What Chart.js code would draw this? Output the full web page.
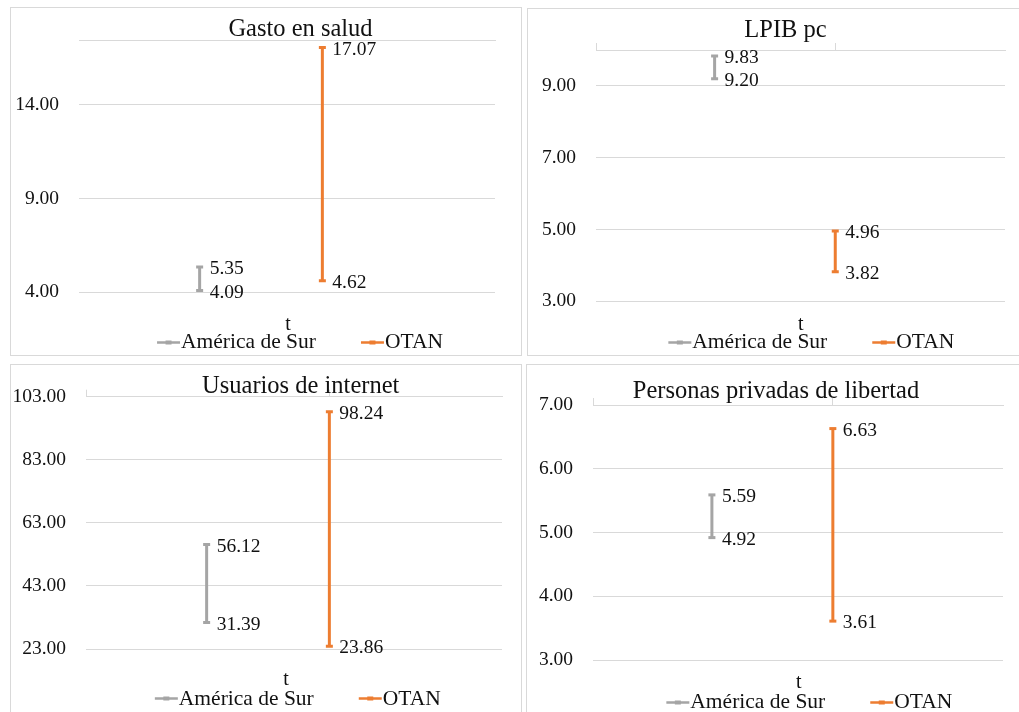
<!DOCTYPE html>
<html>
<head>
<meta charset="utf-8">
<title>Indicadores: América de Sur vs OTAN</title>
<script src="https://cdn.jsdelivr.net/npm/chart.js@4.4.0/dist/chart.umd.min.js"></script>
<style>
  html, body { margin: 0; padding: 0; background: #fff; width: 1019px; height: 712px; overflow: hidden; }
  .panel { position: absolute; box-sizing: border-box; border: 1px solid #d9d9d9; overflow: hidden; background: #fff; }
  .panel canvas { position: absolute; left: 0; top: 0; }
</style>
</head>
<body>
<div class="panel" style="left:10px;top:7px;width:512px;height:349px"><canvas id="c0" width="510" height="352"></canvas></div>
<div class="panel" style="left:527px;top:8px;width:512px;height:348px"><canvas id="c1" width="510" height="352"></canvas></div>
<div class="panel" style="left:10px;top:364px;width:512px;height:349px"><canvas id="c2" width="510" height="352"></canvas></div>
<div class="panel" style="left:526px;top:364px;width:512px;height:349px"><canvas id="c3" width="510" height="352"></canvas></div>
<script>
// ---- data ----
const indicators = ['Gasto en salud', 'LPIB pc', 'Usuarios de internet', 'Personas privadas de libertad'];
const seriesNames = ['América de Sur', 'OTAN'];
const surLow   = [4.09, 9.20, 31.39, 4.92];
const surHigh  = [5.35, 9.83, 56.12, 5.59];
const otanLow  = [4.62, 3.82, 23.86, 3.61];
const otanHigh = [17.07, 4.96, 98.24, 6.63];
const yTicks = [[4, 9, 14], [3, 5, 7, 9], [23, 43, 63, 83, 103], [3, 4, 5, 6, 7]];
const yMin = [4, 3, 23, 3];
const yMax = [17.44, 10, 103, 7];
const axisTitle = 't';

// ---- style ----
const GRAY = '#A5A5A5';
const ORANGE = '#ED7D31';
const GRID = '#D9D9D9';
const TEXT = '#111111';
const FAMILY = '"Liberation Serif", "Times New Roman", serif';
const seriesColors = [GRAY, ORANGE];
const seriesX = [0.29, 0.585];          // horizontal slot of each series inside the plot (0..1)
const CANVAS_W = 510, CANVAS_H = 352;

// per-panel geometry in canvas pixels
const layouts = [
  { area: { left: 68, top: 32.5, right: 484, bottom: 284.3 }, ticks: false, title: [289.5, 28],   axisT: [277, 322],   legend: [289, 340.3] },
  { area: { left: 68, top: 41,   right: 477, bottom: 292.3 }, ticks: true,  title: [257.5, 28.3], axisT: [272.7, 321], legend: [283.3, 339.3] },
  { area: { left: 75, top: 31.7, right: 491, bottom: 284 },   ticks: true,  title: [289.7, 28.3], axisT: [275, 320],   legend: [286.8, 340] },
  { area: { left: 66, top: 40,   right: 476, bottom: 295 },   ticks: true,  title: [249, 33.3],   axisT: [271.7, 323.3], legend: [282.3, 343.3] }
];

// numeric labels next to each end point
const valueLabels = {
  id: 'valueLabels',
  afterDatasetsDraw(chart) {
    const ctx = chart.ctx;
    ctx.save();
    ctx.font = '19.5px ' + FAMILY;
    ctx.fillStyle = TEXT;
    ctx.textAlign = 'left';
    ctx.textBaseline = 'middle';
    chart.data.datasets.forEach((ds, i) => {
      chart.getDatasetMeta(i).data.forEach((pt, j) => {
        ctx.fillText(ds.data[j].y.toFixed(2), pt.x + 10, pt.y + 2);
      });
    });
    ctx.restore();
  }
};

// panel title, axis caption and legend row
function panelDecor(idx) {
  return {
    id: 'panelDecor',
    afterDraw(chart) {
      const L = layouts[idx];
      const ctx = chart.ctx;
      ctx.save();
      ctx.fillStyle = TEXT;
      ctx.textBaseline = 'alphabetic';
      ctx.textAlign = 'center';
      ctx.font = '24.5px ' + FAMILY;
      ctx.fillText(indicators[idx], L.title[0], L.title[1]);
      ctx.font = '20px ' + FAMILY;
      ctx.fillText(axisTitle, L.axisT[0], L.axisT[1]);

      ctx.font = '21.5px ' + FAMILY;
      ctx.textAlign = 'left';
      const SYM = 23, GAP = 45;
      const items = chart.data.datasets.map(d => ({ text: d.label, color: d.borderColor, w: ctx.measureText(d.label).width }));
      const total = items.reduce((s, it) => s + SYM + 1 + it.w, 0) + GAP * (items.length - 1);
      let x = L.legend[0] - total / 2;
      const yb = L.legend[1];
      const ys = Math.round(yb - 6.6) + 0.5;
      items.forEach(it => {
        ctx.strokeStyle = it.color;
        ctx.lineWidth = 2.5;
        ctx.beginPath();
        ctx.moveTo(x, ys);
        ctx.lineTo(x + SYM, ys);
        ctx.stroke();
        ctx.fillStyle = it.color;
        ctx.fillRect(x + SYM / 2 - 3, ys - 2, 6, 4);
        x += SYM + 1;
        ctx.fillStyle = TEXT;
        ctx.fillText(it.text, x, yb);
        x += it.w + GAP;
      });
      ctx.restore();
    }
  };
}

function buildPanel(idx) {
  const L = layouts[idx];
  const tickLen = L.ticks ? 7 : 0;
  const lows = [surLow[idx], otanLow[idx]];
  const highs = [surHigh[idx], otanHigh[idx]];
  const datasets = seriesNames.map((name, s) => ({
    label: name,
    data: [{ x: seriesX[s], y: lows[s] }, { x: seriesX[s], y: highs[s] }],
    borderColor: seriesColors[s],
    backgroundColor: seriesColors[s],
    borderWidth: 3,
    pointStyle: 'line',
    pointRadius: 3.5,
    pointHoverRadius: 3.5,
    pointBorderWidth: 3,
    pointBorderColor: seriesColors[s],
    fill: false,
    tension: 0
  }));

  new Chart(document.getElementById('c' + idx), {
    type: 'line',
    data: { datasets },
    plugins: [valueLabels, panelDecor(idx)],
    options: {
      responsive: false,
      animation: false,
      devicePixelRatio: 1,
      events: [],
      layout: {
        padding: {
          left: 0,
          top: L.area.top - tickLen,
          right: CANVAS_W - L.area.right,
          bottom: CANVAS_H - L.area.bottom
        }
      },
      plugins: {
        legend: { display: false },
        title: { display: false },
        tooltip: { enabled: false }
      },
      scales: {
        x: {
          type: 'linear',
          position: 'top',
          min: 0,
          max: 1,
          ticks: { display: false },
          grid: { drawOnChartArea: false, drawTicks: L.ticks, tickLength: 7, color: GRID, lineWidth: 1 },
          border: { display: true, color: GRID, width: 1 },
          afterBuildTicks: s => { s.ticks = [{ value: 0 }, { value: seriesX[1] }]; }
        },
        y: {
          type: 'linear',
          min: yMin[idx],
          max: yMax[idx],
          afterBuildTicks: s => { s.ticks = yTicks[idx].map(v => ({ value: v })); },
          afterFit: s => { s.width = L.area.left; },
          border: { display: false },
          grid: { color: GRID, lineWidth: 1, drawTicks: false },
          ticks: {
            padding: 20,
            color: TEXT,
            font: { family: FAMILY, size: 19.5 },
            callback: v => Number(v).toFixed(2)
          }
        }
      }
    }
  });
}

indicators.forEach((_, i) => buildPanel(i));
</script>
</body>
</html>
